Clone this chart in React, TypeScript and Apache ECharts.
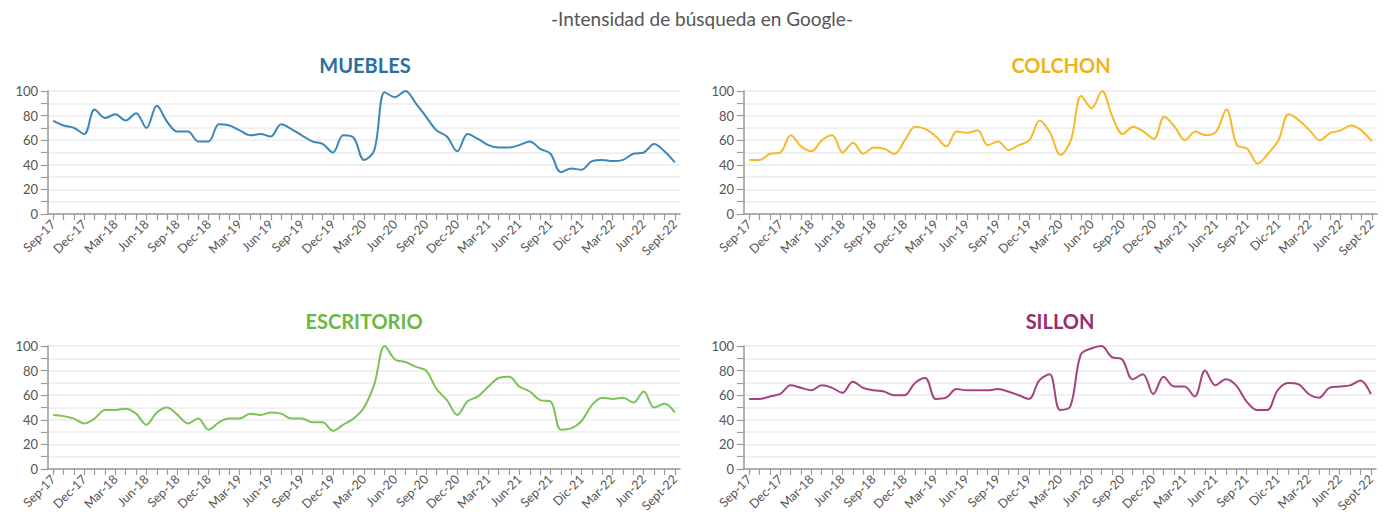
import React, { useEffect, useRef } from "react";
import * as echarts from "echarts";

const months: string[] = [
  "Sep-17","Oct-17","Nov-17","Dec-17","Jan-18","Feb-18","Mar-18","Apr-18","May-18","Jun-18","Jul-18","Aug-18",
  "Sep-18","Oct-18","Nov-18","Dec-18","Jan-19","Feb-19","Mar-19","Apr-19","May-19","Jun-19","Jul-19","Aug-19",
  "Sep-19","Oct-19","Nov-19","Dec-19","Jan-20","Feb-20","Mar-20","Apr-20","May-20","Jun-20","Jul-20","Aug-20",
  "Sep-20","Oct-20","Nov-20","Dec-20","Jan-21","Feb-21","Mar-21","Apr-21","May-21","Jun-21","Jul-21","Aug-21",
  "Sep-21","Oct-21","Nov-21","Dic-21","Jan-22","Feb-22","Mar-22","Apr-22","May-22","Jun-22","Jul-22","Aug-22",
  "Sept-22",
];

const muebles: number[] = [76,72,70,65,85,78,81,76,82,70,88,75,67,67,59,59,73,72,68,64,65,63,73,69,64,59,57,50,64,62,44,52,99,95,100,90,79,68,63,51,65,61,56,54,54,56,59,53,49,34,37,36,43,44,43,44,49,50,57,51,42];
const colchon: number[] = [44,44,49,50,64,55,51,60,64,50,58,49,54,53,49,60,71,69,63,55,67,66,68,56,59,52,56,60,76,66,48,60,96,86,100,79,65,71,67,61,79,71,60,67,64,67,85,56,53,41,49,60,81,76,68,60,66,68,72,68,59];
const escritorio: number[] = [44,43,41,37,41,48,48,49,45,36,46,50,44,37,41,32,38,41,41,45,44,46,45,41,41,38,38,31,36,41,50,69,100,89,87,83,80,65,56,44,55,59,67,74,75,67,63,56,55,32,33,39,52,58,57,58,54,63,50,53,46];
const sillon: number[] = [57,57,59,61,68,66,64,68,66,62,71,66,64,63,60,60,70,74,57,58,65,64,64,64,65,63,60,57,72,77,48,51,93,98,100,91,89,73,77,61,75,67,67,59,80,68,73,68,55,48,48,64,70,69,61,58,66,67,68,72,61];

const panelTitles: string[] = ["MUEBLES", "COLCHON", "ESCRITORIO", "SILLON"];
const subtitle = "-Intensidad de búsqueda en Google-";

const titleColors = ["#2b6f9f", "#f0b21c", "#6cb844", "#93306b"];
const lineColors = ["#3b88b6", "#f5b92c", "#7dc257", "#a2457d"];

const FONT = "Lato, 'Open Sans', sans-serif";

export default function App() {
  const ref = useRef<HTMLDivElement>(null);

  useEffect(() => {
    document.body.style.margin = "0";
    if (!ref.current) return;
    const chart = echarts.init(ref.current, undefined, { renderer: "svg" });
    const seriesData = [muebles, colchon, escritorio, sillon];
    const grids = [
      { left: 48, top: 91, width: 632, height: 123 },
      { left: 744, top: 91, width: 633, height: 123 },
      { left: 48, top: 346, width: 632, height: 123 },
      { left: 744, top: 346, width: 632, height: 123 },
    ];
    const titleCenters = [
      { x: 360, y: 63 },
      { x: 1056, y: 63 },
      { x: 359, y: 319 },
      { x: 1055, y: 319 },
    ];

    const option: any = {
      animation: false,
      backgroundColor: "#ffffff",
      title: [
        {
          text: subtitle,
          left: 697,
          top: 4,
          textAlign: "center",
          textStyle: { fontFamily: FONT, fontSize: 19, fontWeight: "normal", color: "#555555" },
        },
        ...panelTitles.map((t, i) => ({
          text: t,
          left: titleCenters[i].x,
          top: titleCenters[i].y - 13,
          textAlign: "center",
          textStyle: { fontFamily: FONT, fontSize: 20, fontWeight: "bold", color: titleColors[i] },
        })),
      ],
      grid: grids,
      xAxis: grids.map((_, i) => ({
        type: "category",
        gridIndex: i,
        data: months,
        boundaryGap: true,
        axisLine: { show: true, lineStyle: { color: "#9a9a9a", width: 1.5 } },
        axisTick: { show: true, interval: 0, alignWithLabel: true, length: 6, lineStyle: { color: "#9a9a9a", width: 1.2 } },
        axisLabel: {
          interval: 2,
          rotate: 45,
          fontFamily: FONT,
          fontSize: 12.5,
          color: "#555555",
          margin: 8,
        },
        splitLine: { show: false },
      })),
      yAxis: grids.map((_, i) => ({
        type: "value",
        gridIndex: i,
        min: 0,
        max: 100,
        interval: 10,
        axisLine: { show: true, lineStyle: { color: "#9a9a9a", width: 1.5 } },
        axisTick: { show: true, length: 7, lineStyle: { color: "#9a9a9a", width: 1.2 } },
        axisLabel: {
          formatter: (v: number) => (v % 20 === 0 ? String(v) : ""),
          fontFamily: FONT,
          fontSize: 13,
          color: "#555555",
          margin: 10,
        },
        splitLine: { show: true, lineStyle: { color: "#ebebeb", width: 1.5 } },
      })),
      series: seriesData.map((d, i) => ({
        type: "line",
        name: panelTitles[i],
        xAxisIndex: i,
        yAxisIndex: i,
        data: d,
        smooth: 0.35,
        symbol: "none",
        lineStyle: { color: lineColors[i], width: 2 },
      })),
    };
    chart.setOption(option);
    return () => chart.dispose();
  }, []);

  return <div ref={ref} style={{ width: 1391, height: 524 }} />;
}
